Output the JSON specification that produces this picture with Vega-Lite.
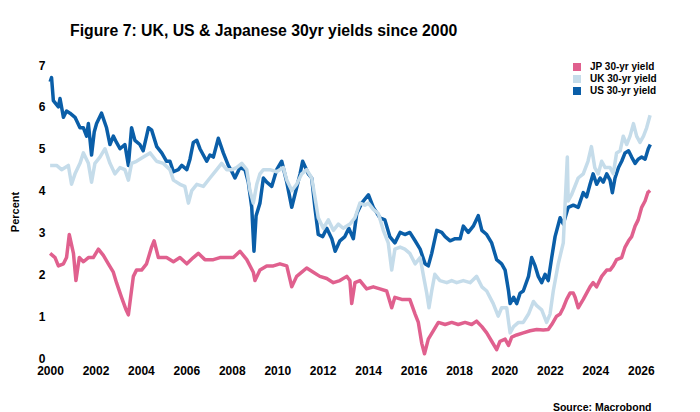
{
  "$schema": "https://vega.github.io/schema/vega-lite/v6.json",
  "width": 601,
  "height": 293,
  "autosize": {"type": "none"},
  "padding": {"left": 50, "top": 65, "right": 49, "bottom": 54},
  "title": {
    "text": "Figure 7: UK, US & Japanese 30yr yields since 2000",
    "anchor": "start",
    "frame": "group",
    "dx": 20,
    "offset": 19,
    "fontSize": 15.8,
    "fontWeight": "bold",
    "font": "Liberation Sans",
    "color": "#000"
  },
  "data": {
    "values": [
      {"date": "2000-01-03", "country": "US", "yield": 6.6},
      {"date": "2000-01-26", "country": "US", "yield": 6.7},
      {"date": "2000-02-24", "country": "US", "yield": 6.15},
      {"date": "2000-05-15", "country": "US", "yield": 6.0},
      {"date": "2000-06-10", "country": "US", "yield": 6.2},
      {"date": "2000-08-04", "country": "US", "yield": 5.75},
      {"date": "2000-09-23", "country": "US", "yield": 5.9},
      {"date": "2000-11-17", "country": "US", "yield": 5.85},
      {"date": "2001-02-06", "country": "US", "yield": 5.75},
      {"date": "2001-04-27", "country": "US", "yield": 5.5},
      {"date": "2001-06-21", "country": "US", "yield": 5.5},
      {"date": "2001-08-11", "country": "US", "yield": 5.3},
      {"date": "2001-09-09", "country": "US", "yield": 5.6},
      {"date": "2001-10-30", "country": "US", "yield": 4.85},
      {"date": "2001-12-12", "country": "US", "yield": 5.4},
      {"date": "2002-01-19", "country": "US", "yield": 5.6},
      {"date": "2002-04-08", "country": "US", "yield": 5.85},
      {"date": "2002-06-28", "country": "US", "yield": 5.5},
      {"date": "2002-08-22", "country": "US", "yield": 5.1},
      {"date": "2002-10-15", "country": "US", "yield": 5.3},
      {"date": "2002-12-05", "country": "US", "yield": 5.15},
      {"date": "2003-01-30", "country": "US", "yield": 5.0},
      {"date": "2003-04-19", "country": "US", "yield": 5.1},
      {"date": "2003-06-14", "country": "US", "yield": 4.6},
      {"date": "2003-08-04", "country": "US", "yield": 5.5},
      {"date": "2003-09-27", "country": "US", "yield": 5.2},
      {"date": "2003-12-15", "country": "US", "yield": 5.1},
      {"date": "2004-02-06", "country": "US", "yield": 4.95},
      {"date": "2004-04-01", "country": "US", "yield": 5.3},
      {"date": "2004-05-01", "country": "US", "yield": 5.5},
      {"date": "2004-06-21", "country": "US", "yield": 5.45},
      {"date": "2004-09-12", "country": "US", "yield": 5.05},
      {"date": "2004-12-01", "country": "US", "yield": 4.9},
      {"date": "2005-02-17", "country": "US", "yield": 4.7},
      {"date": "2005-04-12", "country": "US", "yield": 4.7},
      {"date": "2005-06-07", "country": "US", "yield": 4.45},
      {"date": "2005-08-25", "country": "US", "yield": 4.5},
      {"date": "2005-10-19", "country": "US", "yield": 4.6},
      {"date": "2006-01-08", "country": "US", "yield": 4.5},
      {"date": "2006-02-28", "country": "US", "yield": 4.75},
      {"date": "2006-04-23", "country": "US", "yield": 5.15},
      {"date": "2006-06-18", "country": "US", "yield": 5.2},
      {"date": "2006-08-07", "country": "US", "yield": 5.0},
      {"date": "2006-11-24", "country": "US", "yield": 4.7},
      {"date": "2007-01-15", "country": "US", "yield": 4.85},
      {"date": "2007-03-11", "country": "US", "yield": 4.8},
      {"date": "2007-05-30", "country": "US", "yield": 5.25},
      {"date": "2007-08-18", "country": "US", "yield": 4.9},
      {"date": "2007-11-06", "country": "US", "yield": 4.6},
      {"date": "2008-01-03", "country": "US", "yield": 4.45},
      {"date": "2008-02-21", "country": "US", "yield": 4.3},
      {"date": "2008-05-12", "country": "US", "yield": 4.55},
      {"date": "2008-07-31", "country": "US", "yield": 4.5},
      {"date": "2008-09-23", "country": "US", "yield": 4.2},
      {"date": "2008-11-17", "country": "US", "yield": 3.6},
      {"date": "2008-12-23", "country": "US", "yield": 2.55},
      {"date": "2009-01-26", "country": "US", "yield": 3.4},
      {"date": "2009-03-29", "country": "US", "yield": 3.7},
      {"date": "2009-05-23", "country": "US", "yield": 4.3},
      {"date": "2009-07-16", "country": "US", "yield": 4.2},
      {"date": "2009-10-04", "country": "US", "yield": 4.1},
      {"date": "2009-12-23", "country": "US", "yield": 4.5},
      {"date": "2010-03-14", "country": "US", "yield": 4.7},
      {"date": "2010-06-03", "country": "US", "yield": 4.2},
      {"date": "2010-08-22", "country": "US", "yield": 3.6},
      {"date": "2010-10-11", "country": "US", "yield": 3.9},
      {"date": "2011-01-03", "country": "US", "yield": 4.4},
      {"date": "2011-02-13", "country": "US", "yield": 4.7},
      {"date": "2011-05-15", "country": "US", "yield": 4.4},
      {"date": "2011-07-09", "country": "US", "yield": 4.3},
      {"date": "2011-08-29", "country": "US", "yield": 3.6},
      {"date": "2011-10-22", "country": "US", "yield": 2.95},
      {"date": "2012-01-03", "country": "US", "yield": 2.9},
      {"date": "2012-03-07", "country": "US", "yield": 3.1},
      {"date": "2012-05-27", "country": "US", "yield": 2.85},
      {"date": "2012-07-20", "country": "US", "yield": 2.55},
      {"date": "2012-10-04", "country": "US", "yield": 2.8},
      {"date": "2012-12-23", "country": "US", "yield": 2.9},
      {"date": "2013-02-24", "country": "US", "yield": 3.1},
      {"date": "2013-05-08", "country": "US", "yield": 2.85},
      {"date": "2013-07-02", "country": "US", "yield": 3.45},
      {"date": "2013-09-20", "country": "US", "yield": 3.7},
      {"date": "2014-01-05", "country": "US", "yield": 3.9},
      {"date": "2014-03-25", "country": "US", "yield": 3.6},
      {"date": "2014-07-09", "country": "US", "yield": 3.35},
      {"date": "2014-09-27", "country": "US", "yield": 3.3},
      {"date": "2014-12-15", "country": "US", "yield": 2.9},
      {"date": "2015-03-07", "country": "US", "yield": 2.75},
      {"date": "2015-05-30", "country": "US", "yield": 3.0},
      {"date": "2015-08-14", "country": "US", "yield": 2.95},
      {"date": "2015-11-02", "country": "US", "yield": 3.0},
      {"date": "2016-01-26", "country": "US", "yield": 2.8},
      {"date": "2016-04-16", "country": "US", "yield": 2.6},
      {"date": "2016-07-05", "country": "US", "yield": 2.25},
      {"date": "2016-08-25", "country": "US", "yield": 2.2},
      {"date": "2016-10-19", "country": "US", "yield": 2.5},
      {"date": "2017-01-08", "country": "US", "yield": 3.05},
      {"date": "2017-03-29", "country": "US", "yield": 3.0},
      {"date": "2017-05-23", "country": "US", "yield": 2.9},
      {"date": "2017-08-11", "country": "US", "yield": 2.8},
      {"date": "2017-10-30", "country": "US", "yield": 2.85},
      {"date": "2018-01-19", "country": "US", "yield": 2.85},
      {"date": "2018-03-11", "country": "US", "yield": 3.15},
      {"date": "2018-05-30", "country": "US", "yield": 3.0},
      {"date": "2018-08-18", "country": "US", "yield": 3.15},
      {"date": "2018-11-06", "country": "US", "yield": 3.4},
      {"date": "2019-01-03", "country": "US", "yield": 3.05},
      {"date": "2019-03-22", "country": "US", "yield": 2.95},
      {"date": "2019-06-10", "country": "US", "yield": 2.75},
      {"date": "2019-08-29", "country": "US", "yield": 2.35},
      {"date": "2019-11-17", "country": "US", "yield": 2.25},
      {"date": "2020-01-12", "country": "US", "yield": 2.1},
      {"date": "2020-03-07", "country": "US", "yield": 1.6},
      {"date": "2020-04-01", "country": "US", "yield": 1.3},
      {"date": "2020-05-27", "country": "US", "yield": 1.45},
      {"date": "2020-07-16", "country": "US", "yield": 1.3},
      {"date": "2020-09-09", "country": "US", "yield": 1.55},
      {"date": "2020-10-30", "country": "US", "yield": 1.6},
      {"date": "2021-01-22", "country": "US", "yield": 1.95},
      {"date": "2021-03-14", "country": "US", "yield": 2.4},
      {"date": "2021-05-08", "country": "US", "yield": 2.2},
      {"date": "2021-06-28", "country": "US", "yield": 1.95},
      {"date": "2021-08-22", "country": "US", "yield": 1.8},
      {"date": "2021-10-15", "country": "US", "yield": 2.0},
      {"date": "2021-12-05", "country": "US", "yield": 1.85},
      {"date": "2022-01-30", "country": "US", "yield": 2.4},
      {"date": "2022-03-25", "country": "US", "yield": 2.9},
      {"date": "2022-06-14", "country": "US", "yield": 3.35},
      {"date": "2022-08-04", "country": "US", "yield": 3.2},
      {"date": "2022-10-22", "country": "US", "yield": 3.6},
      {"date": "2023-01-12", "country": "US", "yield": 3.65},
      {"date": "2023-04-01", "country": "US", "yield": 3.6},
      {"date": "2023-06-21", "country": "US", "yield": 3.95},
      {"date": "2023-08-14", "country": "US", "yield": 3.85},
      {"date": "2023-10-08", "country": "US", "yield": 4.15},
      {"date": "2023-11-27", "country": "US", "yield": 4.4},
      {"date": "2024-01-22", "country": "US", "yield": 4.15},
      {"date": "2024-03-18", "country": "US", "yield": 4.3},
      {"date": "2024-05-08", "country": "US", "yield": 4.2},
      {"date": "2024-07-02", "country": "US", "yield": 4.4},
      {"date": "2024-08-25", "country": "US", "yield": 4.25},
      {"date": "2024-10-01", "country": "US", "yield": 3.95},
      {"date": "2024-11-13", "country": "US", "yield": 4.3},
      {"date": "2025-01-08", "country": "US", "yield": 4.55},
      {"date": "2025-02-28", "country": "US", "yield": 4.7},
      {"date": "2025-04-23", "country": "US", "yield": 4.9},
      {"date": "2025-06-18", "country": "US", "yield": 4.95},
      {"date": "2025-08-07", "country": "US", "yield": 4.8},
      {"date": "2025-10-01", "country": "US", "yield": 4.65},
      {"date": "2025-11-20", "country": "US", "yield": 4.75},
      {"date": "2026-01-15", "country": "US", "yield": 4.8},
      {"date": "2026-03-11", "country": "US", "yield": 4.75},
      {"date": "2026-05-01", "country": "US", "yield": 5.0},
      {"date": "2026-06-03", "country": "US", "yield": 5.1},
      {"date": "2000-01-03", "country": "UK", "yield": 4.6},
      {"date": "2000-04-16", "country": "UK", "yield": 4.6},
      {"date": "2000-07-05", "country": "UK", "yield": 4.5},
      {"date": "2000-10-22", "country": "UK", "yield": 4.6},
      {"date": "2000-12-12", "country": "UK", "yield": 4.15},
      {"date": "2001-02-06", "country": "UK", "yield": 4.4},
      {"date": "2001-04-27", "country": "UK", "yield": 4.65},
      {"date": "2001-06-21", "country": "UK", "yield": 4.9},
      {"date": "2001-09-09", "country": "UK", "yield": 4.65},
      {"date": "2001-10-30", "country": "UK", "yield": 4.2},
      {"date": "2001-12-23", "country": "UK", "yield": 4.65},
      {"date": "2002-03-14", "country": "UK", "yield": 4.8},
      {"date": "2002-06-03", "country": "UK", "yield": 5.0},
      {"date": "2002-08-22", "country": "UK", "yield": 4.65},
      {"date": "2002-11-09", "country": "UK", "yield": 4.4},
      {"date": "2003-01-30", "country": "UK", "yield": 4.55},
      {"date": "2003-04-19", "country": "UK", "yield": 4.5},
      {"date": "2003-06-14", "country": "UK", "yield": 4.25},
      {"date": "2003-08-04", "country": "UK", "yield": 4.65},
      {"date": "2003-10-22", "country": "UK", "yield": 4.7},
      {"date": "2004-02-10", "country": "UK", "yield": 4.8},
      {"date": "2004-05-27", "country": "UK", "yield": 4.9},
      {"date": "2004-09-09", "country": "UK", "yield": 4.7},
      {"date": "2004-12-26", "country": "UK", "yield": 4.65},
      {"date": "2005-04-12", "country": "UK", "yield": 4.5},
      {"date": "2005-06-07", "country": "UK", "yield": 4.25},
      {"date": "2005-09-20", "country": "UK", "yield": 4.15},
      {"date": "2005-12-08", "country": "UK", "yield": 4.1},
      {"date": "2006-02-03", "country": "UK", "yield": 3.7},
      {"date": "2006-03-29", "country": "UK", "yield": 4.0},
      {"date": "2006-06-18", "country": "UK", "yield": 4.15},
      {"date": "2006-10-01", "country": "UK", "yield": 4.1},
      {"date": "2007-01-15", "country": "UK", "yield": 4.3},
      {"date": "2007-05-04", "country": "UK", "yield": 4.5},
      {"date": "2007-07-23", "country": "UK", "yield": 4.65},
      {"date": "2007-10-11", "country": "UK", "yield": 4.5},
      {"date": "2008-01-03", "country": "UK", "yield": 4.5},
      {"date": "2008-03-18", "country": "UK", "yield": 4.55},
      {"date": "2008-06-10", "country": "UK", "yield": 4.65},
      {"date": "2008-08-29", "country": "UK", "yield": 4.5},
      {"date": "2008-10-19", "country": "UK", "yield": 4.0},
      {"date": "2008-12-12", "country": "UK", "yield": 3.7},
      {"date": "2009-02-06", "country": "UK", "yield": 4.15},
      {"date": "2009-03-29", "country": "UK", "yield": 4.4},
      {"date": "2009-05-23", "country": "UK", "yield": 4.5},
      {"date": "2009-09-05", "country": "UK", "yield": 4.5},
      {"date": "2009-12-23", "country": "UK", "yield": 4.45},
      {"date": "2010-04-08", "country": "UK", "yield": 4.55},
      {"date": "2010-06-03", "country": "UK", "yield": 4.25},
      {"date": "2010-08-22", "country": "UK", "yield": 4.0},
      {"date": "2010-11-09", "country": "UK", "yield": 4.15},
      {"date": "2011-01-30", "country": "UK", "yield": 4.4},
      {"date": "2011-04-19", "country": "UK", "yield": 4.5},
      {"date": "2011-07-09", "country": "UK", "yield": 4.3},
      {"date": "2011-08-29", "country": "UK", "yield": 3.85},
      {"date": "2011-10-22", "country": "UK", "yield": 3.35},
      {"date": "2012-01-12", "country": "UK", "yield": 3.1},
      {"date": "2012-04-01", "country": "UK", "yield": 3.3},
      {"date": "2012-06-21", "country": "UK", "yield": 3.05},
      {"date": "2012-09-09", "country": "UK", "yield": 3.2},
      {"date": "2012-11-27", "country": "UK", "yield": 3.1},
      {"date": "2013-03-14", "country": "UK", "yield": 3.2},
      {"date": "2013-06-03", "country": "UK", "yield": 3.35},
      {"date": "2013-08-22", "country": "UK", "yield": 3.7},
      {"date": "2013-11-09", "country": "UK", "yield": 3.65},
      {"date": "2014-01-05", "country": "UK", "yield": 3.7},
      {"date": "2014-03-25", "country": "UK", "yield": 3.55},
      {"date": "2014-06-14", "country": "UK", "yield": 3.45},
      {"date": "2014-09-02", "country": "UK", "yield": 3.05},
      {"date": "2014-11-20", "country": "UK", "yield": 2.75},
      {"date": "2015-01-15", "country": "UK", "yield": 2.1},
      {"date": "2015-03-07", "country": "UK", "yield": 2.6},
      {"date": "2015-05-30", "country": "UK", "yield": 2.65},
      {"date": "2015-08-14", "country": "UK", "yield": 2.6},
      {"date": "2015-11-02", "country": "UK", "yield": 2.5},
      {"date": "2016-01-26", "country": "UK", "yield": 2.25},
      {"date": "2016-04-16", "country": "UK", "yield": 2.4},
      {"date": "2016-06-10", "country": "UK", "yield": 1.95},
      {"date": "2016-07-31", "country": "UK", "yield": 1.55},
      {"date": "2016-09-05", "country": "UK", "yield": 1.2},
      {"date": "2016-10-19", "country": "UK", "yield": 1.6},
      {"date": "2016-12-08", "country": "UK", "yield": 2.0},
      {"date": "2017-02-28", "country": "UK", "yield": 1.85},
      {"date": "2017-06-18", "country": "UK", "yield": 1.8},
      {"date": "2017-09-05", "country": "UK", "yield": 1.85},
      {"date": "2017-11-24", "country": "UK", "yield": 1.8},
      {"date": "2018-03-11", "country": "UK", "yield": 1.85},
      {"date": "2018-06-28", "country": "UK", "yield": 1.8},
      {"date": "2018-10-11", "country": "UK", "yield": 1.95},
      {"date": "2019-01-03", "country": "UK", "yield": 1.7},
      {"date": "2019-03-22", "country": "UK", "yield": 1.6},
      {"date": "2019-07-05", "country": "UK", "yield": 1.3},
      {"date": "2019-09-23", "country": "UK", "yield": 1.0},
      {"date": "2019-11-17", "country": "UK", "yield": 1.2},
      {"date": "2020-02-06", "country": "UK", "yield": 1.2},
      {"date": "2020-04-01", "country": "UK", "yield": 0.6},
      {"date": "2020-05-27", "country": "UK", "yield": 0.75},
      {"date": "2020-08-14", "country": "UK", "yield": 0.85},
      {"date": "2020-10-30", "country": "UK", "yield": 0.85},
      {"date": "2021-01-22", "country": "UK", "yield": 1.05},
      {"date": "2021-04-12", "country": "UK", "yield": 1.35},
      {"date": "2021-06-03", "country": "UK", "yield": 1.25},
      {"date": "2021-08-22", "country": "UK", "yield": 1.15},
      {"date": "2021-11-09", "country": "UK", "yield": 0.85},
      {"date": "2022-01-03", "country": "UK", "yield": 1.05},
      {"date": "2022-02-24", "country": "UK", "yield": 1.6},
      {"date": "2022-05-15", "country": "UK", "yield": 2.25},
      {"date": "2022-08-04", "country": "UK", "yield": 2.75},
      {"date": "2022-10-08", "country": "UK", "yield": 4.8},
      {"date": "2022-10-22", "country": "UK", "yield": 3.75},
      {"date": "2022-12-15", "country": "UK", "yield": 3.9},
      {"date": "2023-04-01", "country": "UK", "yield": 4.3},
      {"date": "2023-06-21", "country": "UK", "yield": 4.4},
      {"date": "2023-09-05", "country": "UK", "yield": 4.7},
      {"date": "2023-10-30", "country": "UK", "yield": 5.05},
      {"date": "2023-12-23", "country": "UK", "yield": 4.55},
      {"date": "2024-02-17", "country": "UK", "yield": 4.4},
      {"date": "2024-04-12", "country": "UK", "yield": 4.7},
      {"date": "2024-06-07", "country": "UK", "yield": 4.55},
      {"date": "2024-08-25", "country": "UK", "yield": 4.55},
      {"date": "2024-10-15", "country": "UK", "yield": 4.4},
      {"date": "2024-12-08", "country": "UK", "yield": 4.9},
      {"date": "2025-02-03", "country": "UK", "yield": 4.95},
      {"date": "2025-03-25", "country": "UK", "yield": 5.3},
      {"date": "2025-05-19", "country": "UK", "yield": 5.1},
      {"date": "2025-07-12", "country": "UK", "yield": 5.3},
      {"date": "2025-09-05", "country": "UK", "yield": 5.6},
      {"date": "2025-10-26", "country": "UK", "yield": 5.3},
      {"date": "2025-12-19", "country": "UK", "yield": 5.15},
      {"date": "2026-02-13", "country": "UK", "yield": 5.3},
      {"date": "2026-04-05", "country": "UK", "yield": 5.5},
      {"date": "2026-05-30", "country": "UK", "yield": 5.8},
      {"date": "2000-01-03", "country": "JP", "yield": 2.5},
      {"date": "2000-03-22", "country": "JP", "yield": 2.4},
      {"date": "2000-05-15", "country": "JP", "yield": 2.2},
      {"date": "2000-08-04", "country": "JP", "yield": 2.25},
      {"date": "2000-09-23", "country": "JP", "yield": 2.4},
      {"date": "2000-11-06", "country": "JP", "yield": 2.95},
      {"date": "2001-01-12", "country": "JP", "yield": 2.5},
      {"date": "2001-02-21", "country": "JP", "yield": 1.85},
      {"date": "2001-04-16", "country": "JP", "yield": 2.4},
      {"date": "2001-06-21", "country": "JP", "yield": 2.3},
      {"date": "2001-09-09", "country": "JP", "yield": 2.4},
      {"date": "2001-11-27", "country": "JP", "yield": 2.4},
      {"date": "2002-02-17", "country": "JP", "yield": 2.6},
      {"date": "2002-05-08", "country": "JP", "yield": 2.45},
      {"date": "2002-07-27", "country": "JP", "yield": 2.25},
      {"date": "2002-10-15", "country": "JP", "yield": 2.05},
      {"date": "2002-12-05", "country": "JP", "yield": 1.8},
      {"date": "2003-02-24", "country": "JP", "yield": 1.45},
      {"date": "2003-05-08", "country": "JP", "yield": 1.15},
      {"date": "2003-06-14", "country": "JP", "yield": 1.03},
      {"date": "2003-07-20", "country": "JP", "yield": 1.45},
      {"date": "2003-09-02", "country": "JP", "yield": 1.95},
      {"date": "2003-10-22", "country": "JP", "yield": 2.1},
      {"date": "2004-01-12", "country": "JP", "yield": 2.1},
      {"date": "2004-04-01", "country": "JP", "yield": 2.25},
      {"date": "2004-06-21", "country": "JP", "yield": 2.65},
      {"date": "2004-07-31", "country": "JP", "yield": 2.8},
      {"date": "2004-10-08", "country": "JP", "yield": 2.4},
      {"date": "2005-02-17", "country": "JP", "yield": 2.4},
      {"date": "2005-06-07", "country": "JP", "yield": 2.3},
      {"date": "2005-09-20", "country": "JP", "yield": 2.4},
      {"date": "2006-01-08", "country": "JP", "yield": 2.25},
      {"date": "2006-04-23", "country": "JP", "yield": 2.4},
      {"date": "2006-07-12", "country": "JP", "yield": 2.5},
      {"date": "2006-10-26", "country": "JP", "yield": 2.35},
      {"date": "2007-03-11", "country": "JP", "yield": 2.35},
      {"date": "2007-06-25", "country": "JP", "yield": 2.4},
      {"date": "2007-10-11", "country": "JP", "yield": 2.4},
      {"date": "2008-01-26", "country": "JP", "yield": 2.4},
      {"date": "2008-05-12", "country": "JP", "yield": 2.55},
      {"date": "2008-08-29", "country": "JP", "yield": 2.35},
      {"date": "2008-12-12", "country": "JP", "yield": 2.05},
      {"date": "2009-01-08", "country": "JP", "yield": 1.85},
      {"date": "2009-03-29", "country": "JP", "yield": 2.1},
      {"date": "2009-07-16", "country": "JP", "yield": 2.2},
      {"date": "2009-10-30", "country": "JP", "yield": 2.2},
      {"date": "2010-02-13", "country": "JP", "yield": 2.25},
      {"date": "2010-06-03", "country": "JP", "yield": 2.2},
      {"date": "2010-08-22", "country": "JP", "yield": 1.7},
      {"date": "2010-11-09", "country": "JP", "yield": 1.95},
      {"date": "2011-01-30", "country": "JP", "yield": 2.05},
      {"date": "2011-04-19", "country": "JP", "yield": 2.15},
      {"date": "2011-08-04", "country": "JP", "yield": 2.05},
      {"date": "2011-11-17", "country": "JP", "yield": 1.95},
      {"date": "2012-03-07", "country": "JP", "yield": 1.9},
      {"date": "2012-06-21", "country": "JP", "yield": 1.8},
      {"date": "2012-10-04", "country": "JP", "yield": 1.85},
      {"date": "2013-01-22", "country": "JP", "yield": 1.95},
      {"date": "2013-03-14", "country": "JP", "yield": 1.85},
      {"date": "2013-04-12", "country": "JP", "yield": 1.3},
      {"date": "2013-06-03", "country": "JP", "yield": 1.8},
      {"date": "2013-08-22", "country": "JP", "yield": 1.85},
      {"date": "2013-12-08", "country": "JP", "yield": 1.65},
      {"date": "2014-03-25", "country": "JP", "yield": 1.7},
      {"date": "2014-07-09", "country": "JP", "yield": 1.65},
      {"date": "2014-10-26", "country": "JP", "yield": 1.6},
      {"date": "2015-01-15", "country": "JP", "yield": 1.2},
      {"date": "2015-03-07", "country": "JP", "yield": 1.45},
      {"date": "2015-06-25", "country": "JP", "yield": 1.4},
      {"date": "2015-11-02", "country": "JP", "yield": 1.4},
      {"date": "2016-01-26", "country": "JP", "yield": 1.05},
      {"date": "2016-03-18", "country": "JP", "yield": 0.85},
      {"date": "2016-05-12", "country": "JP", "yield": 0.35},
      {"date": "2016-06-25", "country": "JP", "yield": 0.1},
      {"date": "2016-08-25", "country": "JP", "yield": 0.45},
      {"date": "2016-11-13", "country": "JP", "yield": 0.65},
      {"date": "2017-02-03", "country": "JP", "yield": 0.85},
      {"date": "2017-05-23", "country": "JP", "yield": 0.8},
      {"date": "2017-09-05", "country": "JP", "yield": 0.85},
      {"date": "2017-12-19", "country": "JP", "yield": 0.8},
      {"date": "2018-04-08", "country": "JP", "yield": 0.85},
      {"date": "2018-07-23", "country": "JP", "yield": 0.8},
      {"date": "2018-10-11", "country": "JP", "yield": 0.88},
      {"date": "2019-01-03", "country": "JP", "yield": 0.75},
      {"date": "2019-03-22", "country": "JP", "yield": 0.6},
      {"date": "2019-06-10", "country": "JP", "yield": 0.4},
      {"date": "2019-08-29", "country": "JP", "yield": 0.2},
      {"date": "2019-10-22", "country": "JP", "yield": 0.4},
      {"date": "2020-01-12", "country": "JP", "yield": 0.45},
      {"date": "2020-03-07", "country": "JP", "yield": 0.3},
      {"date": "2020-04-27", "country": "JP", "yield": 0.5},
      {"date": "2020-07-16", "country": "JP", "yield": 0.55},
      {"date": "2020-10-30", "country": "JP", "yield": 0.6},
      {"date": "2021-02-17", "country": "JP", "yield": 0.65},
      {"date": "2021-06-03", "country": "JP", "yield": 0.68},
      {"date": "2021-09-16", "country": "JP", "yield": 0.67},
      {"date": "2021-12-05", "country": "JP", "yield": 0.68},
      {"date": "2022-01-30", "country": "JP", "yield": 0.8},
      {"date": "2022-04-19", "country": "JP", "yield": 1.0},
      {"date": "2022-06-14", "country": "JP", "yield": 1.05},
      {"date": "2022-08-04", "country": "JP", "yield": 1.2},
      {"date": "2022-09-27", "country": "JP", "yield": 1.4},
      {"date": "2022-11-20", "country": "JP", "yield": 1.55},
      {"date": "2023-01-12", "country": "JP", "yield": 1.55},
      {"date": "2023-02-10", "country": "JP", "yield": 1.45},
      {"date": "2023-04-01", "country": "JP", "yield": 1.2},
      {"date": "2023-06-21", "country": "JP", "yield": 1.4},
      {"date": "2023-10-08", "country": "JP", "yield": 1.7},
      {"date": "2023-11-27", "country": "JP", "yield": 1.8},
      {"date": "2024-01-22", "country": "JP", "yield": 1.7},
      {"date": "2024-04-12", "country": "JP", "yield": 1.95},
      {"date": "2024-07-02", "country": "JP", "yield": 2.1},
      {"date": "2024-08-25", "country": "JP", "yield": 2.1},
      {"date": "2024-10-15", "country": "JP", "yield": 2.2},
      {"date": "2024-12-08", "country": "JP", "yield": 2.35},
      {"date": "2025-02-28", "country": "JP", "yield": 2.4},
      {"date": "2025-04-23", "country": "JP", "yield": 2.65},
      {"date": "2025-06-18", "country": "JP", "yield": 2.8},
      {"date": "2025-08-07", "country": "JP", "yield": 2.9},
      {"date": "2025-10-01", "country": "JP", "yield": 3.15},
      {"date": "2025-11-20", "country": "JP", "yield": 3.3},
      {"date": "2026-01-15", "country": "JP", "yield": 3.6},
      {"date": "2026-03-11", "country": "JP", "yield": 3.75},
      {"date": "2026-04-23", "country": "JP", "yield": 3.95},
      {"date": "2026-05-30", "country": "JP", "yield": 4.0}
    ]
  },
  "mark": {"type": "line", "strokeWidth": 3.5, "strokeJoin": "round"},
  "encoding": {
    "x": {
      "field": "date",
      "type": "temporal",
      "scale": {"type": "utc", "domain": ["2000-01-01", "2026-06-14"]},
      "axis": {
        "format": "%Y",
        "tickCount": {"interval": "year", "step": 2},
        "grid": false,
        "domain": false,
        "ticks": false,
        "labelPadding": 7,
        "labelFontSize": 12,
        "labelFontWeight": "bold",
        "labelColor": "#000",
        "labelFlush": false,
        "labelOverlap": false,
        "title": "Source: Macrobond",
        "titleAnchor": "end",
        "titleFontSize": 10.5,
        "titleFontWeight": "bold",
        "titleColor": "#000",
        "titlePadding": 26
      }
    },
    "y": {
      "field": "yield",
      "type": "quantitative",
      "scale": {"domain": [0, 7], "nice": false},
      "axis": {
        "values": [0, 1, 2, 3, 4, 5, 6, 7],
        "grid": false,
        "domain": false,
        "ticks": false,
        "labelPadding": 5,
        "labelFontSize": 12,
        "labelFontWeight": "bold",
        "labelColor": "#000",
        "title": "Percent",
        "titleFontSize": 11,
        "titleFontWeight": "bold",
        "titleColor": "#000",
        "titlePadding": 18
      }
    },
    "color": {
      "field": "country",
      "type": "nominal",
      "scale": {
        "domain": ["JP", "UK", "US"],
        "range": ["#e0608e", "#c5dcea", "#0a5ea8"]
      },
      "legend": {
        "orient": "none",
        "legendX": 522,
        "legendY": -3,
        "title": null,
        "symbolType": "square",
        "symbolSize": 9,
        "symbolStrokeWidth": 5,
        "symbolOpacity": 1,
        "clipHeight": 10,
        "labelFontSize": 10,
        "labelFontWeight": "bold",
        "labelColor": "#000",
        "labelOffset": 8,
        "rowPadding": 2,
        "labelExpr": "datum.label + ' 30-yr yield'"
      }
    }
  },
  "config": {
    "view": {"stroke": null},
    "font": "Liberation Sans"
  }
}
